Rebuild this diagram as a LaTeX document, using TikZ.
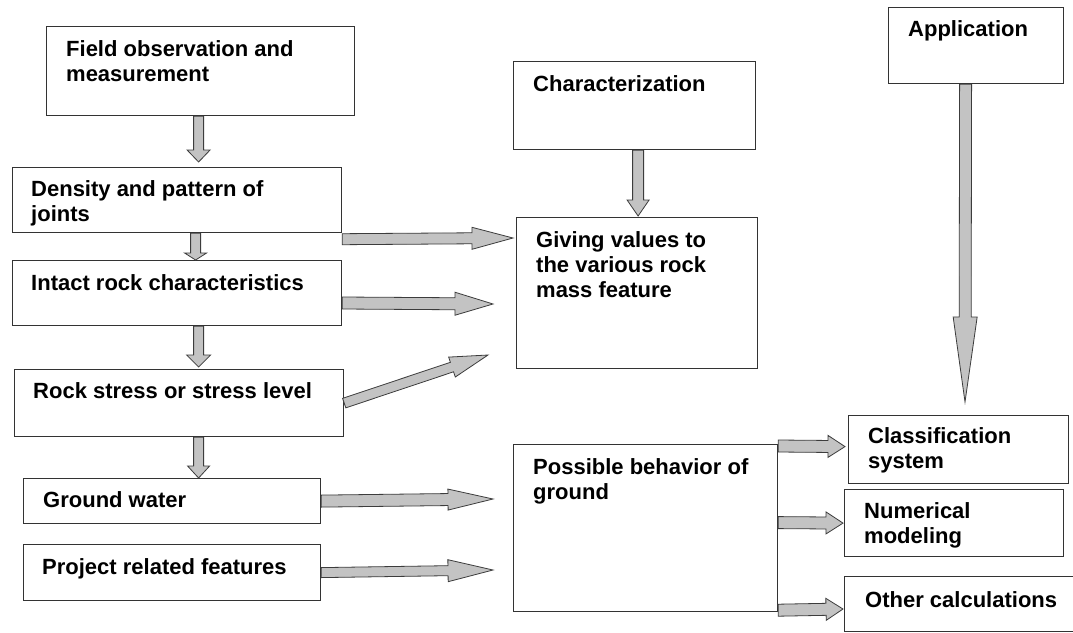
\documentclass[tikz,border=0pt]{standalone}
\usepackage{fontspec}
\setmainfont{Liberation Sans}
\usetikzlibrary{calc}
\definecolor{arrowfill}{HTML}{C3C3C3}
\definecolor{arrowline}{HTML}{3C3C3C}
\definecolor{boxline}{HTML}{333333}
\tikzset{
  box/.style={draw=boxline, line width=1.2pt, rectangle, inner sep=0pt, anchor=north west},
  lbl/.style={inner sep=0pt, anchor=base west, align=left, text=black,
    font=\fontsize{22}{25}\selectfont\bfseries},
  blockarrow/.style args={#1/#2/#3}{fill=arrowfill, draw=arrowline, line width=0.8pt, line join=miter,
    to path={($(\tikztotarget)!#3!(\tikztostart)$) coordinate (bax)
      ($(\tikztostart)!#1!90:(\tikztotarget)$) -- ($(bax)!#1!90:(\tikztotarget)$)
      -- ($(bax)!#2!90:(\tikztotarget)$) -- (\tikztotarget)
      -- ($(bax)!#2!-90:(\tikztotarget)$) -- ($(bax)!#1!-90:(\tikztotarget)$)
      -- ($(\tikztostart)!#1!-90:(\tikztotarget)$) -- cycle}}
}
\begin{document}
\begin{tikzpicture}[x=1pt, y=-1pt]
\useasboundingbox (0,0) rectangle (1073,632);
\clip (0,0) rectangle (1073,632);
\fill[white] (0,0) rectangle (1073,632);

% boxes
\node[box, minimum width=308pt, minimum height=89pt] (field) at (46,26) {};
\node[box, minimum width=329pt, minimum height=65pt] (density) at (12,167) {};
\node[box, minimum width=329pt, minimum height=65pt] (intact) at (12,260) {};
\node[box, minimum width=329pt, minimum height=67pt] (stress) at (14,369) {};
\node[box, minimum width=297pt, minimum height=45pt] (water) at (23,478) {};
\node[box, minimum width=297pt, minimum height=56pt] (project) at (23,544) {};
\node[box, minimum width=242pt, minimum height=88pt] (charact) at (513,61) {};
\node[box, minimum width=241pt, minimum height=151pt] (giving) at (516,217) {};
\node[box, minimum width=175pt, minimum height=76pt] (app) at (888,7) {};
\node[box, minimum width=264pt, minimum height=167pt] (possible) at (513,444) {};
\node[box, minimum width=220pt, minimum height=68pt] (classif) at (848,415) {};
\node[box, minimum width=219pt, minimum height=67pt] (numer) at (844,489) {};
\node[box, minimum width=280pt, minimum height=55pt] (other) at (844,576) {};

% labels (anchor = baseline of the last line)
\node[lbl] (fieldt) at (66,81) {Field observation and\\measurement};
\node[lbl] (densityt) at (31,221) {Density and pattern of\\joints};
\node[lbl] (intactt) at (31,290) {Intact rock characteristics};
\node[lbl] (stresst) at (33,398) {Rock stress or stress level};
\node[lbl] (watert) at (43,507) {Ground water};
\node[lbl] (projectt) at (42,574) {Project related features};
\node[lbl] (charactt) at (533,91) {Characterization};
\node[lbl] (givingt) at (536,297) {Giving values to\\the various rock\\mass feature};
\node[lbl] (appt) at (908,36) {Application};
\node[lbl] (possiblet) at (533,499) {Possible behavior of\\ground};
\node[lbl] (classift) at (868,468) {Classification\\system};
\node[lbl] (numert) at (864,543) {Numerical\\modeling};
\node[lbl] (othert) at (865,607) {Other calculations};

% free arrow ends
\coordinate (tipIntact) at (493,304);
\coordinate (tipStress) at (488,355);
\coordinate (tipWater) at (493,499);
\coordinate (tipProject) at (493,570);
\coordinate (tipApp) at (965,402);

% left column arrows
\draw[blockarrow=5pt/11.5pt/12pt] ($(field.south)+(-2,0)$) to ($(density.north)+(21.5,-5)$);
\draw[blockarrow=5pt/11pt/7pt] ($(density.south)+(18.5,0)$) to ($(intact.north)+(18.5,0)$);
\draw[blockarrow=5pt/12pt/12pt] ($(intact.south)+(21.5,0)$) to ($(stress.north)+(19.5,-2)$);
\draw[blockarrow=5pt/11pt/12pt] ($(stress.south)+(19.5,0)$) to ($(water.north)+(26.5,0)$);

% to characterization result
\draw[blockarrow=5.5pt/11pt/41pt] ($(density.south east)+(0,6)$) to ($(giving.north west)+(-3,21)$);
\draw[blockarrow=6pt/11.5pt/38pt] ($(intact.north east)+(0,43)$) to (tipIntact);
\draw[blockarrow=5pt/10.5pt/38pt] (stress.east) to (tipStress);
\draw[blockarrow=5.5pt/11pt/16pt] ($(charact.south)+(3.5,0)$) to ($(giving.north)+(1,-1)$);

% to possible behaviour
\draw[blockarrow=6pt/10.5pt/45pt] (water.east) to (tipWater);
\draw[blockarrow=5pt/11pt/45pt] (project.east) to (tipProject);

% application
\draw[blockarrow=6pt/12pt/85pt] ($(app.south)+(-10.5,0)$) to (tipApp);

% outputs
\draw[blockarrow=6pt/11pt/17pt] ($(possible.north east)+(0,2)$) to ($(classif.west)+(-3,-3)$);
\draw[blockarrow=6pt/11pt/17pt] ($(possible.east)+(0,-5.5)$) to ($(numer.west)+(-1,0)$);
\draw[blockarrow=6pt/11pt/17pt] ($(possible.south east)+(0,-2)$) to ($(other.north west)+(-1,33)$);
\end{tikzpicture}
\end{document}
